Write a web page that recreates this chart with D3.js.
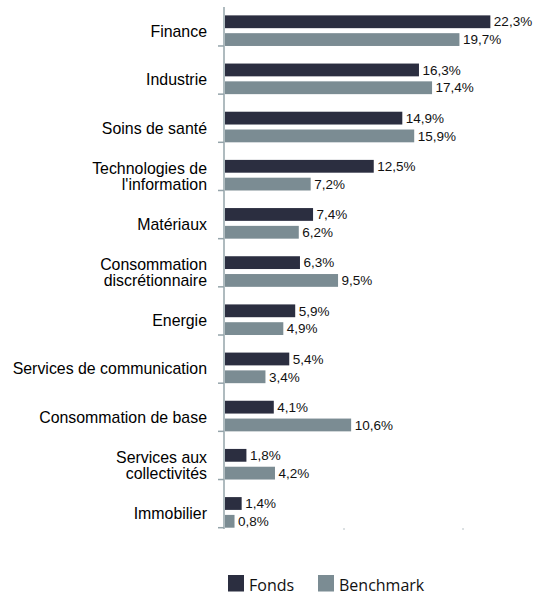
<!DOCTYPE html>
<html><head><meta charset="utf-8">
<script src="https://cdn.jsdelivr.net/npm/d3@7"></script>
<style>html,body{margin:0;padding:0;background:#fff;}svg{display:block;}</style>
</head><body>
<svg id="c" width="537" height="595"></svg>
<script>
const categories = [
  ["Finance"],
  ["Industrie"],
  ["Soins de santé"],
  ["Technologies de", "l'information"],
  ["Matériaux"],
  ["Consommation", "discrétionnaire"],
  ["Energie"],
  ["Services de communication"],
  ["Consommation de base"],
  ["Services aux", "collectivités"],
  ["Immobilier"]
];
const fonds = [22.3, 16.3, 14.9, 12.5, 7.4, 6.3, 5.9, 5.4, 4.1, 1.8, 1.4];
const benchmark = [19.7, 17.4, 15.9, 7.2, 6.2, 9.5, 4.9, 3.4, 10.6, 4.2, 0.8];
const seriesNames = ["Fonds", "Benchmark"];
const xTicks = [10, 20];

const colors = ["#2b2e40", "#7b8c93"];
const axisColor = "#95a4aa";

const svg = d3.select("#c");
const keys = categories.map(c => c.join(" "));
const x = d3.scaleLinear().domain([0, 25]).range([225, 522.5]);
const y = d3.scaleBand().domain(keys).range([-2.2, 527.7]).paddingInner(0).paddingOuter(0);
const step = y.step();
const barH = 12.8;
const fmt = v => d3.format(".1f")(v).replace(".", ",") + "%";

// gridline stubs
svg.append("g").selectAll("line").data(xTicks).join("line")
  .attr("x1", d => x(d)).attr("x2", d => x(d))
  .attr("y1", 528).attr("y2", 530)
  .attr("stroke", "#b8c2c6").attr("stroke-width", 1);

const g = svg.append("g");
categories.forEach((c, i) => {
  const k = keys[i];
  const y0 = y(k);
  const yF = y0 + step - 2 * barH - 5;
  const yB = y0 + step - barH;
  g.append("rect").attr("x", x(0)).attr("y", yF).attr("width", x(fonds[i]) - x(0)).attr("height", barH).attr("fill", colors[0]);
  g.append("rect").attr("x", x(0)).attr("y", yB).attr("width", x(benchmark[i]) - x(0)).attr("height", barH).attr("fill", colors[1]);
  g.append("text").attr("x", x(fonds[i]) + 3.5).attr("y", yF + barH / 2).attr("dy", "0.35em")
    .attr("font-family", "Liberation Sans, Arial, sans-serif").attr("font-size", 13.5).attr("fill", "#111")
    .text(fmt(fonds[i]));
  g.append("text").attr("x", x(benchmark[i]) + 3.5).attr("y", yB + barH / 2).attr("dy", "0.35em")
    .attr("font-family", "Liberation Sans, Arial, sans-serif").attr("font-size", 13.5).attr("fill", "#111")
    .text(fmt(benchmark[i]));
  // category label
  const cy = yF + (yB + barH - yF) / 2 + 1;
  const lh = 16;
  const t = g.append("text").attr("text-anchor", "end")
    .attr("font-family", "Liberation Sans, Arial, sans-serif").attr("font-size", 15.9).attr("fill", "#000");
  c.forEach((line, j) => {
    t.append("tspan").attr("x", 207)
      .attr("y", cy + (j - (c.length - 1) / 2) * lh).attr("dy", "0.35em").text(line);
  });
});

// axis line and ticks
svg.append("line").attr("x1", 224).attr("x2", 224).attr("y1", 7).attr("y2", 529)
  .attr("stroke", axisColor).attr("stroke-width", 1.5);
svg.append("g").selectAll("line").data(keys).join("line")
  .attr("x1", 218).attr("x2", 224)
  .attr("y1", d => y(d) + step).attr("y2", d => y(d) + step)
  .attr("stroke", axisColor).attr("stroke-width", 1.5);

// legend
const leg = svg.append("g");
const legX = [228, 318];
seriesNames.forEach((n, i) => {
  leg.append("rect").attr("x", legX[i]).attr("y", 575).attr("width", 16).attr("height", 16.5).attr("fill", colors[i]);
  leg.append("text").attr("x", legX[i] + 21).attr("y", 591)
    .attr("font-family", "Open Sans, sans-serif").attr("font-size", 16).attr("fill", "#111").text(n);
});
</script>
</body></html>
